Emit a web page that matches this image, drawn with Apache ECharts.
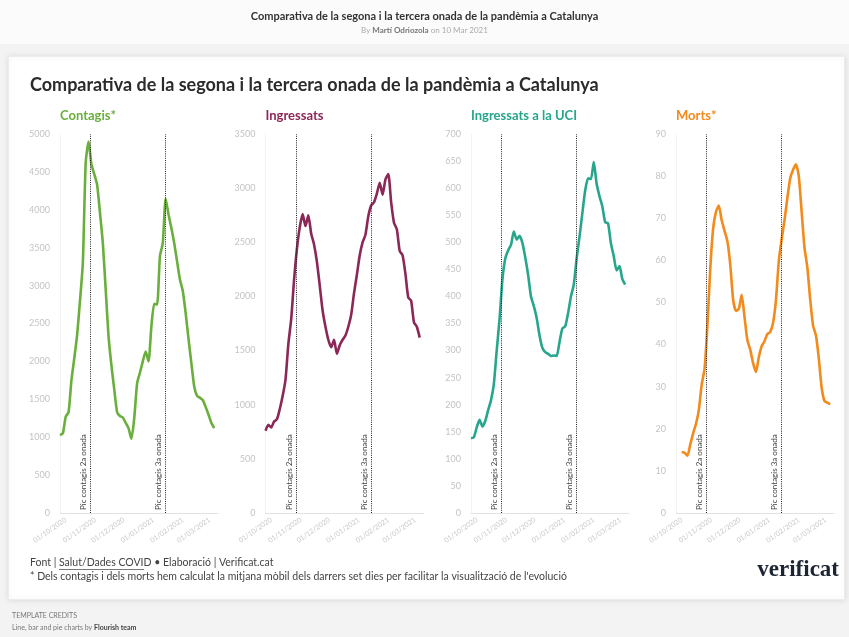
<!DOCTYPE html>
<html>
<head>
<meta charset="utf-8">
<script src="https://cdn.jsdelivr.net/npm/echarts@6/dist/echarts.min.js"></script>
<style>
html,body{margin:0;padding:0;background:#f3f3f3;}
#c{width:849px;height:637px;}
</style>
</head>
<body>
<div id="c"></div>
<script>
// ---- Data ----
const dates = ['2020-09-25','2020-09-28','2020-10-01','2020-10-04','2020-10-07','2020-10-10','2020-10-13','2020-10-16','2020-10-19','2020-10-22','2020-10-25','2020-10-28','2020-10-31','2020-11-03','2020-11-06','2020-11-09','2020-11-12','2020-11-15','2020-11-18','2020-11-21','2020-11-24','2020-11-27','2020-11-30','2020-12-03','2020-12-06','2020-12-09','2020-12-12','2020-12-15','2020-12-18','2020-12-21','2020-12-24','2020-12-27','2020-12-30','2021-01-02','2021-01-05','2021-01-08','2021-01-11','2021-01-14','2021-01-17','2021-01-20','2021-01-23','2021-01-26','2021-01-29','2021-02-01','2021-02-04','2021-02-07','2021-02-10','2021-02-13','2021-02-16','2021-02-19','2021-02-22','2021-02-25','2021-02-28','2021-03-03','2021-03-06'];
const contagis = [1030,1050,1270,1330,1750,2040,2350,2800,3300,4620,4900,4600,4470,4330,3960,3560,2950,2330,1950,1630,1330,1280,1260,1190,1120,980,1250,1710,1850,2000,2130,2000,2460,2760,2750,3390,3560,4150,3940,3760,3560,3320,3080,2930,2640,2300,1980,1670,1545,1520,1490,1400,1300,1190,1120];
const ingressats = [760,815,790,845,865,960,1080,1230,1560,1790,2150,2440,2640,2760,2650,2750,2580,2480,2320,2100,1870,1720,1600,1530,1600,1470,1550,1600,1640,1720,1830,2030,2200,2380,2500,2570,2740,2840,2870,2950,3050,2940,3080,3130,2870,2680,2620,2420,2380,2210,1990,1960,1760,1720,1620];
const uci = [138,140,158,172,160,170,190,208,238,300,358,431,470,485,495,520,505,512,499,472,440,400,382,360,328,305,297,294,290,291,290,316,341,345,369,400,422,470,510,554,596,618,617,648,608,585,566,537,535,498,474,448,456,432,422];
const morts = [null,null,14.5,14.3,13.6,16.3,18.9,21.2,24.5,30.5,34.2,44.5,58,67.5,71.5,73,69.5,67,64.5,59,50.7,48,48.5,51.8,46.5,41,38.8,35.6,33.5,37,39.6,40.8,42.5,43,45.2,50.5,59.8,65,69.5,74.8,79.5,81.5,82.8,80,71.5,63,58.3,50.7,44.5,42.2,36.8,29.8,26.6,26.2,25.8];

const panelTitles = ['Contagis*','Ingressats','Ingressats a la UCI','Morts*'];
const panelColors = ['#6aae3c','#8b2857','#27a68c','#f28a1c'];
const yMax = [5000,3500,700,90];
const yInterval = [500,500,50,10];
const xStart = '2020-09-25';
const xEnd = '2021-03-10';
const tickDates = ['2020-10-01','2020-11-01','2020-12-01','2021-01-01','2021-02-01','2021-03-01'];
const peakDates = ['2020-10-27','2021-01-14'];
const peakLabels = ['Pic contagis 2a onada','Pic contagis 3a onada'];

// ---- Helpers ----
function ts(s){ const p=s.split('-').map(Number); return new Date(p[0],p[1]-1,p[2]).getTime(); }
function pad(n){ return (n<10?'0':'')+n; }
function fmt(v){ const d=new Date(v); return pad(d.getDate())+'/'+pad(d.getMonth()+1)+'/'+d.getFullYear(); }

const FONT = 'Lato, "Noto Sans", sans-serif';
const seriesValues = [contagis, ingressats, uci, morts];
const gridLeft = [60, 265.5, 471, 676];
const gridW = 158, gridTop = 134, gridH = 379;

const grids = [], xAxes = [], yAxes = [], series = [], graphics = [];
for (let i=0;i<4;i++){
  grids.push({left:gridLeft[i], top:gridTop, width:gridW, height:gridH});
  xAxes.push({
    type:'value', gridIndex:i, min:ts(xStart), max:ts(xEnd),
    axisLine:{show:true, lineStyle:{color:'#e2e2e2', width:1}},
    axisTick:{show:false},
    splitLine:{show:false},
    axisLabel:{
      customValues: tickDates.map(ts),
      formatter: fmt, rotate:35, fontSize:7, color:'#c8c8c8', fontFamily:FONT, margin:6
    }
  });
  yAxes.push({
    type:'value', gridIndex:i, min:0, max:yMax[i], interval:yInterval[i],
    axisLine:{show:true, lineStyle:{color:'#f3f3f3'}},
    axisTick:{show:false},
    splitLine:{show:false},
    axisLabel:{fontSize:9, color:'#c4c4c4', fontFamily:FONT, margin:10, formatter:(v)=>String(v)}
  });
  series.push({
    type:'line', xAxisIndex:i, yAxisIndex:i,
    data: dates.map((d,k)=>[ts(d), seriesValues[i][k]]),
    showSymbol:false, smooth:0.2, connectNulls:false,
    lineStyle:{color:panelColors[i], width:2.6},
    itemStyle:{color:panelColors[i]},
    markLine:{
      silent:true, symbol:'none', animation:false,
      lineStyle:{type:[1,1.2], color:'#222', width:1},
      label:{show:true, position:'insideStartTop', fontSize:8, color:'#444', fontFamily:FONT, distance:3},
      data: peakDates.map((d,j)=>({xAxis:ts(d), label:{formatter:peakLabels[j]}}))
    }
  });
  graphics.push({type:'text', left:gridLeft[i], top:109,
    style:{text:panelTitles[i], fill:panelColors[i], font:'bold 13px '+FONT}});
}

graphics.unshift(
  {type:'rect', left:0, top:0, shape:{width:849, height:44}, style:{fill:'#fbfbfb'}, z:-10},
  {type:'rect', left:8, top:56, shape:{width:836, height:543}, style:{fill:'#ffffff', stroke:'#ececec', lineWidth:1, shadowBlur:6, shadowColor:'rgba(0,0,0,0.10)'}, z:-9}
);
graphics.push(
  {type:'text', left:'center', top:11, style:{text:'Comparativa de la segona i la tercera onada de la pandèmia a Catalunya', fill:'#333', font:'bold 11px '+FONT}},
  {type:'text', left:'center', top:26, style:{
    text:'{a|By }{b|Martí Odriozola}{a| on 10 Mar 2021}',
    rich:{a:{fontSize:8, fill:'#aaa', fontFamily:FONT}, b:{fontSize:8, fill:'#777', fontWeight:'bold', fontFamily:FONT}}
  }},
  {type:'text', left:30, top:76, style:{text:'Comparativa de la segona i la tercera onada de la pandèmia a Catalunya', fill:'#2b2b2b', font:'bold 18px '+FONT}},
  {type:'text', left:30, top:557, style:{
    text:'Font | Salut/Dades COVID • Elaboració | Verificat.cat',
    fill:'#444', font:'10.5px '+FONT
  }},
  {type:'line', shape:{x1:59, y1:569.5, x2:144, y2:569.5}, style:{stroke:'#555', lineWidth:0.8}},
  {type:'text', left:30, top:571, style:{
    text:"* Dels contagis i dels morts hem calculat la mitjana mòbil dels darrers set dies per facilitar la visualització de l'evolució",
    fill:'#444', font:'10.5px '+FONT}},
  {type:'text', right:10, top:559, style:{
    text:'verificat', fill:'#1d2433', font:'bold 23px "Liberation Serif", "DejaVu Serif", serif'
  }},
  {type:'text', left:12, top:612, style:{text:'TEMPLATE CREDITS', fill:'#777', font:'7px '+FONT}},
  {type:'text', left:12, top:624, style:{
    text:'{a|Line, bar and pie charts by }{b|Flourish team}',
    rich:{a:{fontSize:7, fill:'#777', fontFamily:FONT}, b:{fontSize:7, fill:'#444', fontWeight:'bold', fontFamily:FONT}}
  }}
);

const chart = echarts.init(document.getElementById('c'), null, {renderer:'canvas'});
chart.setOption({
  animation:false,
  backgroundColor:'#f3f3f3',
  textStyle:{fontFamily:FONT},
  grid:grids, xAxis:xAxes, yAxis:yAxes, series:series, graphic:graphics
});
</script>
</body>
</html>
